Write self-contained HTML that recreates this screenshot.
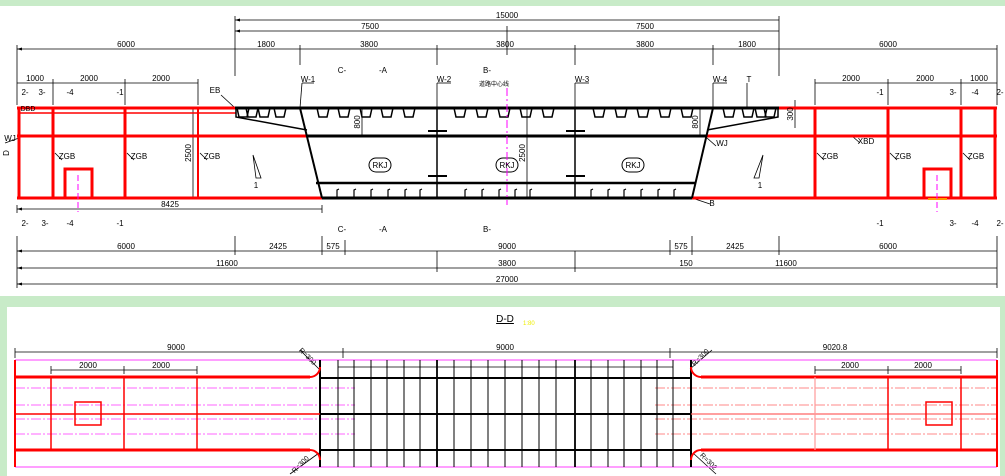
<!DOCTYPE html>
<html><head><meta charset="utf-8"><style>
html,body{margin:0;padding:0;background:#c8ebc8;}
svg{display:block;font-family:"Liberation Sans","Noto Sans CJK SC",sans-serif;}
</style></head><body>
<svg width="1005" height="476" viewBox="0 0 1005 476" xmlns="http://www.w3.org/2000/svg">
<defs>
<path id="u" d="M-6,0 L-4,9 L4,9 L6,0" fill="none" stroke="#000" stroke-width="1.5"/>
<path id="st" d="M0,198 L0,190 L2,189" fill="none" stroke="#000" stroke-width="1.2"/>
<path id="ar" d="M0,0 L5,-1.5 L5,1.5Z" fill="#000"/>
</defs>
<rect x="0" y="6" width="1005" height="290" fill="#fff"/>
<rect x="7" y="307" width="993" height="169" fill="#fff"/>
<rect x="1000" y="307" width="5" height="169" fill="#c8ebc8"/>

<g stroke="#000" stroke-width="0.8" fill="none">
<!-- top dims -->
<line x1="235" y1="20" x2="779" y2="20"/>
<line x1="235" y1="31" x2="779" y2="31"/>
<line x1="17" y1="49" x2="997" y2="49"/>
<line x1="17" y1="83" x2="198" y2="83"/>
<line x1="815" y1="83" x2="997" y2="83"/>
<line x1="235" y1="16" x2="235" y2="76"/><line x1="779" y1="16" x2="779" y2="76"/>
<line x1="507" y1="26" x2="507" y2="55"/>
<line x1="17" y1="45" x2="17" y2="105"/><line x1="997" y1="45" x2="997" y2="105"/>
<line x1="300" y1="45" x2="300" y2="65"/><line x1="437" y1="45" x2="437" y2="65"/>
<line x1="575" y1="45" x2="575" y2="65"/><line x1="713" y1="45" x2="713" y2="65"/>
<line x1="53" y1="79" x2="53" y2="105"/><line x1="125" y1="79" x2="125" y2="105"/><line x1="198" y1="79" x2="198" y2="105"/>
<line x1="815" y1="79" x2="815" y2="105"/><line x1="888" y1="79" x2="888" y2="105"/><line x1="961" y1="79" x2="961" y2="105"/>
<!-- bottom dims -->
<line x1="17" y1="209" x2="322" y2="209"/>
<line x1="17" y1="205" x2="17" y2="213"/><line x1="322" y1="205" x2="322" y2="213"/>
<line x1="17" y1="251" x2="997" y2="251"/>
<line x1="17" y1="268" x2="997" y2="268"/>
<line x1="17" y1="284" x2="997" y2="284"/>
<line x1="17" y1="236" x2="17" y2="288"/><line x1="997" y1="236" x2="997" y2="288"/>
<line x1="235" y1="236" x2="235" y2="255"/><line x1="322" y1="236" x2="322" y2="255"/><line x1="345" y1="240" x2="345" y2="255"/>
<line x1="670" y1="240" x2="670" y2="255"/><line x1="692" y1="236" x2="692" y2="255"/><line x1="779" y1="236" x2="779" y2="255"/>
<line x1="437" y1="251" x2="437" y2="272"/><line x1="575" y1="251" x2="575" y2="272"/>
<!-- 2500/800 vertical dims -->
<line x1="193" y1="108" x2="193" y2="198"/>
<line x1="362" y1="108" x2="362" y2="136"/>
<line x1="527" y1="108" x2="527" y2="198"/>
<line x1="700" y1="108" x2="700" y2="136"/>
<line x1="795" y1="100" x2="795" y2="128"/>
<!-- leaders -->
<line x1="221" y1="95" x2="234" y2="107"/>
<line x1="302" y1="83" x2="300" y2="108"/><line x1="302" y1="83" x2="314" y2="83"/>
<line x1="437" y1="83" x2="437" y2="108"/><line x1="437" y1="83" x2="451" y2="83"/>
<line x1="575" y1="83" x2="575" y2="108"/><line x1="575" y1="83" x2="589" y2="83"/>
<line x1="713" y1="83" x2="713" y2="108"/><line x1="713" y1="83" x2="727" y2="83"/>
<line x1="747" y1="83" x2="747" y2="108"/>
<line x1="5" y1="143" x2="19" y2="138"/>
<line x1="55" y1="153" x2="62" y2="160"/><line x1="127" y1="153" x2="134" y2="160"/><line x1="200" y1="153" x2="207" y2="160"/>
<line x1="817" y1="153" x2="824" y2="160"/><line x1="890" y1="153" x2="897" y2="160"/><line x1="963" y1="153" x2="970" y2="160"/>
<line x1="852" y1="136" x2="860" y2="143"/>
<line x1="707" y1="138" x2="716" y2="146"/>
<line x1="692" y1="198" x2="710" y2="204"/>
<!-- slopes -->
<path d="M253,155 L256,178 L261,178 Z"/>
<path d="M763,155 L759,178 L754,178 Z"/>
</g>
<g fill="#000">
<use href="#ar" x="17" y="49"/><use href="#ar" x="235" y="20"/><use href="#ar" x="235" y="31"/>
<use href="#ar" x="17" y="251"/><use href="#ar" x="17" y="268"/><use href="#ar" x="17" y="284"/><use href="#ar" x="17" y="209"/>
</g>

<!-- RED left -->
<g stroke="#f00" fill="none">
<line x1="17" y1="108" x2="236" y2="108" stroke-width="3"/>
<line x1="19" y1="113" x2="236" y2="113" stroke-width="1.5"/>
<line x1="17" y1="136" x2="307" y2="136" stroke-width="3"/>
<line x1="17" y1="198" x2="322" y2="198" stroke-width="3"/>
<line x1="19" y1="108" x2="19" y2="198" stroke-width="3"/>
<line x1="53" y1="108" x2="53" y2="198" stroke-width="3"/>
<line x1="125" y1="108" x2="125" y2="198" stroke-width="3"/>
<line x1="198" y1="108" x2="198" y2="198" stroke-width="2"/>
<rect x="65" y="169" width="27" height="29" stroke-width="3"/>
<line x1="779" y1="108" x2="997" y2="108" stroke-width="3"/>
<line x1="707" y1="136" x2="997" y2="136" stroke-width="3"/>
<line x1="692" y1="198" x2="997" y2="198" stroke-width="3"/>
<line x1="815" y1="108" x2="815" y2="198" stroke-width="3"/>
<line x1="888" y1="108" x2="888" y2="198" stroke-width="3"/>
<line x1="961" y1="108" x2="961" y2="198" stroke-width="3"/>
<line x1="995" y1="108" x2="995" y2="198" stroke-width="3"/>
<rect x="924" y="169" width="27" height="29" stroke-width="3"/>
</g>
<line x1="928" y1="199" x2="947" y2="199" stroke="#f90" stroke-width="2"/>

<!-- BLACK box girder -->
<g stroke="#000" fill="none">
<line x1="235" y1="108" x2="779" y2="108" stroke-width="3"/>
<line x1="307" y1="136" x2="707" y2="136" stroke-width="3"/>
<line x1="316" y1="183" x2="695" y2="183" stroke-width="2.5"/>
<line x1="322" y1="198" x2="692" y2="198" stroke-width="3"/>
<line x1="300" y1="108" x2="322" y2="198" stroke-width="2"/>
<line x1="713" y1="108" x2="692" y2="198" stroke-width="2"/>
<path d="M236,108 L236,117 L307,130" stroke-width="1.5"/>
<path d="M778,108 L778,117 L707,130" stroke-width="1.5"/>
<line x1="437" y1="108" x2="437" y2="198" stroke-width="1.5"/>
<line x1="575" y1="108" x2="575" y2="198" stroke-width="1.5"/>
<line x1="428" y1="131" x2="447" y2="131" stroke-width="2"/>
<line x1="428" y1="176" x2="447" y2="176" stroke-width="2"/>
<line x1="566" y1="131" x2="585" y2="131" stroke-width="2"/>
<line x1="566" y1="176" x2="585" y2="176" stroke-width="2"/>
<rect x="369" y="158" width="22" height="14" rx="7"/>
<rect x="496" y="158" width="22" height="14" rx="7"/>
<rect x="622" y="158" width="22" height="14" rx="7"/>
</g>
<g>
<use href="#u" x="243" y="108" transform="scale(1)"/>
<use href="#u" x="252" y="108"/><use href="#u" x="264" y="108"/><use href="#u" x="280" y="108"/>
<use href="#u" x="323" y="108"/><use href="#u" x="344" y="108"/><use href="#u" x="366" y="108"/><use href="#u" x="387" y="108"/><use href="#u" x="409" y="108"/>
<use href="#u" x="460" y="108"/><use href="#u" x="482" y="108"/><use href="#u" x="504" y="108"/><use href="#u" x="526" y="108"/><use href="#u" x="548" y="108"/>
<use href="#u" x="599" y="108"/><use href="#u" x="621" y="108"/><use href="#u" x="643" y="108"/><use href="#u" x="665" y="108"/><use href="#u" x="687" y="108"/>
<use href="#u" x="729" y="108"/><use href="#u" x="748" y="108"/><use href="#u" x="761" y="108"/><use href="#u" x="770" y="108"/>
<use href="#st" x="337"/><use href="#st" x="354"/><use href="#st" x="371"/><use href="#st" x="388"/><use href="#st" x="405"/><use href="#st" x="420"/>
<use href="#st" x="465"/><use href="#st" x="482"/><use href="#st" x="499"/><use href="#st" x="515"/><use href="#st" x="530"/>
<use href="#st" x="591"/><use href="#st" x="608"/><use href="#st" x="624"/><use href="#st" x="641"/><use href="#st" x="658"/><use href="#st" x="674"/>
</g>
<line x1="507" y1="88" x2="507" y2="205" stroke="#f0f" stroke-width="1" stroke-dasharray="8,3,2,3"/>
<line x1="78" y1="175" x2="78" y2="212" stroke="#f0f" stroke-width="1" stroke-dasharray="6,3"/>
<line x1="937" y1="175" x2="937" y2="212" stroke="#f0f" stroke-width="1" stroke-dasharray="6,3"/>

<!-- top texts -->
<g font-size="8" fill="#000" text-anchor="middle">
<text x="507" y="18">15000</text>
<text x="370" y="29">7500</text><text x="645" y="29">7500</text>
<text x="126" y="47">6000</text><text x="266" y="47">1800</text><text x="369" y="47">3800</text><text x="505" y="47">3800</text><text x="645" y="47">3800</text><text x="747" y="47">1800</text><text x="888" y="47">6000</text>
<text x="35" y="81">1000</text><text x="89" y="81">2000</text><text x="161" y="81">2000</text>
<text x="851" y="81">2000</text><text x="925" y="81">2000</text><text x="979" y="81">1000</text>
<text x="170" y="207">8425</text>
<text x="126" y="249">6000</text><text x="278" y="249">2425</text><text x="333" y="249">575</text><text x="507" y="249">9000</text><text x="681" y="249">575</text><text x="735" y="249">2425</text><text x="888" y="249">6000</text>
<text x="227" y="266">11600</text><text x="507" y="266">3800</text><text x="686" y="266">150</text><text x="786" y="266">11600</text>
<text x="507" y="282">27000</text>
<text x="308" y="82">W-1</text><text x="444" y="82">W-2</text><text x="582" y="82">W-3</text><text x="720" y="82">W-4</text><text x="749" y="82">T</text>
<text x="215" y="93">EB</text>
<text x="380" y="168">RKJ</text><text x="507" y="168">RKJ</text><text x="633" y="168">RKJ</text>
<text x="67" y="159">ZGB</text><text x="139" y="159">ZGB</text><text x="212" y="159">ZGB</text>
<text x="830" y="159">ZGB</text><text x="903" y="159">ZGB</text><text x="976" y="159">ZGB</text>
<text x="866" y="144">XBD</text>
<text x="10" y="141">WJ</text><text x="722" y="146">WJ</text><text x="712" y="206">B</text>
<text x="256" y="188">1</text><text x="760" y="188">1</text>
<text x="28" y="111" font-size="7">DBD</text>
<text x="25" y="95">2-</text><text x="42" y="95">3-</text><text x="70" y="95">-4</text><text x="120" y="95">-1</text>
<text x="880" y="95">-1</text><text x="953" y="95">3-</text><text x="975" y="95">-4</text><text x="1000" y="95">2-</text>
<text x="25" y="226">2-</text><text x="45" y="226">3-</text><text x="70" y="226">-4</text><text x="120" y="226">-1</text>
<text x="880" y="226">-1</text><text x="953" y="226">3-</text><text x="975" y="226">-4</text><text x="1000" y="226">2-</text>
<text x="342" y="73">C-</text><text x="383" y="73">-A</text><text x="487" y="73">B-</text>
<text x="342" y="232">C-</text><text x="383" y="232">-A</text><text x="487" y="232">B-</text>
<text x="494" y="86" font-size="6">道路中心线</text>
</g>
<g font-size="8" fill="#000" text-anchor="middle">
<text transform="translate(191,153) rotate(-90)">2500</text>
<text transform="translate(360,122) rotate(-90)">800</text>
<text transform="translate(525,153) rotate(-90)">2500</text>
<text transform="translate(698,122) rotate(-90)">800</text>
<text transform="translate(793,114) rotate(-90)">300</text>
<text transform="translate(9,153) rotate(-90)">D</text>
</g>

<!-- BOTTOM panel -->
<text x="505" y="322" font-size="10" text-anchor="middle" text-decoration="underline">D-D</text>
<text x="523" y="325" font-size="6" fill="#ee0">1:80</text>
<g stroke="#000" stroke-width="0.8">
<line x1="15" y1="352" x2="997" y2="352"/>
<line x1="15" y1="348" x2="15" y2="358"/><line x1="343" y1="348" x2="343" y2="358"/><line x1="670" y1="348" x2="670" y2="358"/><line x1="997" y1="348" x2="997" y2="358"/>
<line x1="51" y1="370" x2="197" y2="370"/><line x1="51" y1="366" x2="51" y2="374"/><line x1="124" y1="366" x2="124" y2="374"/><line x1="197" y1="366" x2="197" y2="374"/>
<line x1="815" y1="370" x2="961" y2="370"/><line x1="815" y1="366" x2="815" y2="374"/><line x1="888" y1="366" x2="888" y2="374"/><line x1="961" y1="366" x2="961" y2="374"/>
<line x1="338" y1="367" x2="673" y2="367"/>
<line x1="300" y1="350" x2="319" y2="369"/>
<line x1="290" y1="474" x2="319" y2="453"/>
<line x1="690" y1="369" x2="712" y2="350"/>
<line x1="693" y1="453" x2="716" y2="474"/>
</g>
<g font-size="8" text-anchor="middle">
<text x="176" y="350">9000</text><text x="505" y="350">9000</text><text x="835" y="350">9020.8</text>
<text x="88" y="368">2000</text><text x="161" y="368">2000</text><text x="850" y="368">2000</text><text x="923" y="368">2000</text>
<text transform="translate(306,358) rotate(45)" font-size="7">R=300</text>
<text transform="translate(302,466) rotate(-45)" font-size="7">R=300</text>
<text transform="translate(702,359) rotate(-45)" font-size="7">R=300</text>
<text transform="translate(707,463) rotate(45)" font-size="7">R=302</text>
</g>
<g stroke="#f6f" stroke-width="1.2">
<line x1="15" y1="360" x2="997" y2="360"/>
<line x1="15" y1="467" x2="997" y2="467"/>
</g>
<g stroke="#f6f" stroke-width="1" stroke-dasharray="10,2,2,2">
<line x1="15" y1="388" x2="355" y2="388"/><line x1="15" y1="405" x2="355" y2="405"/>
<line x1="15" y1="419" x2="355" y2="419"/><line x1="15" y1="434" x2="355" y2="434"/>
</g>
<g stroke="#f88" stroke-width="1" stroke-dasharray="10,2,2,2">
<line x1="655" y1="388" x2="997" y2="388"/><line x1="655" y1="405" x2="997" y2="405"/>
<line x1="655" y1="419" x2="997" y2="419"/><line x1="655" y1="434" x2="997" y2="434"/>
</g>
<g stroke="#000" stroke-width="1">
<line x1="338" y1="360" x2="338" y2="467"/><line x1="354" y1="360" x2="354" y2="467"/><line x1="371" y1="360" x2="371" y2="467"/><line x1="387" y1="360" x2="387" y2="467"/><line x1="404" y1="360" x2="404" y2="467"/><line x1="420" y1="360" x2="420" y2="467"/>
<line x1="437" y1="360" x2="437" y2="467" stroke-width="1.8"/>
<line x1="454" y1="360" x2="454" y2="467"/><line x1="471" y1="360" x2="471" y2="467"/><line x1="488" y1="360" x2="488" y2="467"/><line x1="505" y1="360" x2="505" y2="467"/><line x1="522" y1="360" x2="522" y2="467"/><line x1="539" y1="360" x2="539" y2="467"/><line x1="556" y1="360" x2="556" y2="467"/>
<line x1="575" y1="360" x2="575" y2="467" stroke-width="1.8"/>
<line x1="591" y1="360" x2="591" y2="467"/><line x1="608" y1="360" x2="608" y2="467"/><line x1="624" y1="360" x2="624" y2="467"/><line x1="641" y1="360" x2="641" y2="467"/><line x1="657" y1="360" x2="657" y2="467"/><line x1="673" y1="360" x2="673" y2="467"/>
<line x1="320" y1="360" x2="320" y2="467" stroke-width="2"/>
<line x1="691" y1="360" x2="691" y2="467" stroke-width="2"/>
<line x1="320" y1="378" x2="691" y2="378" stroke-width="2"/>
<line x1="320" y1="414" x2="691" y2="414" stroke-width="2"/>
<line x1="320" y1="450" x2="691" y2="450" stroke-width="2"/>
</g>
<g stroke="#f00" fill="none">
<line x1="15" y1="360" x2="15" y2="467" stroke-width="2"/>
<line x1="15" y1="377" x2="310" y2="377" stroke-width="3"/>
<path d="M310,377 A10,10 0 0 0 320,367" stroke-width="2"/>
<line x1="15" y1="450" x2="310" y2="450" stroke-width="3"/>
<path d="M310,450 A10,10 0 0 1 320,460" stroke-width="2"/>
<line x1="15" y1="414" x2="320" y2="414" stroke-width="1.5"/>
<line x1="51" y1="377" x2="51" y2="450" stroke-width="1.5"/>
<line x1="124" y1="377" x2="124" y2="450" stroke-width="1.5"/>
<line x1="197" y1="377" x2="197" y2="450" stroke-width="1.5"/>
<rect x="75" y="402" width="26" height="23" stroke-width="1.5"/>
<line x1="701" y1="377" x2="997" y2="377" stroke-width="3"/>
<path d="M701,377 A10,10 0 0 1 691,367" stroke-width="2"/>
<line x1="701" y1="450" x2="997" y2="450" stroke-width="3"/>
<path d="M701,450 A10,10 0 0 0 691,460" stroke-width="2"/>
<line x1="691" y1="414" x2="997" y2="414" stroke-width="1.2" stroke="#f66"/>
<line x1="815" y1="377" x2="815" y2="450" stroke-width="1.2" stroke="#f99"/>
<line x1="888" y1="377" x2="888" y2="450" stroke-width="1.5"/>
<line x1="961" y1="377" x2="961" y2="450" stroke-width="1.5"/>
<line x1="997" y1="360" x2="997" y2="467" stroke-width="2"/>
<rect x="926" y="402" width="26" height="23" stroke-width="1.5"/>
</g>
</svg>
</body></html>
